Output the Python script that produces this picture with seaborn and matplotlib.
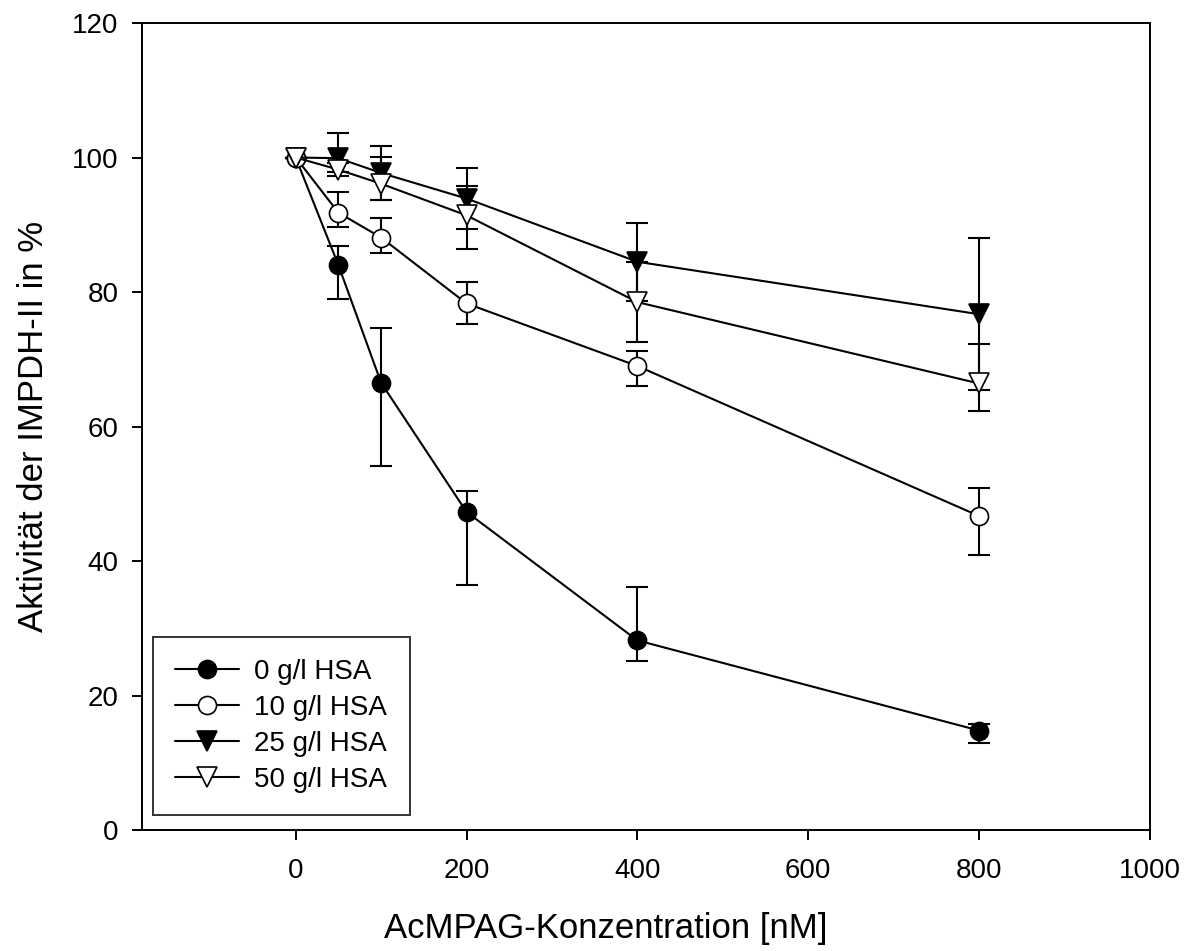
import numpy as np
import pandas as pd
import matplotlib
matplotlib.use("Agg")
import matplotlib.pyplot as plt
import seaborn as sns

# ---- data ----
conc = [0, 50, 100, 200, 400, 800]
labels = ["0 g/l HSA", "10 g/l HSA", "25 g/l HSA", "50 g/l HSA"]

act_0 = [100, 84.0, 66.5, 47.3, 28.2, 14.8]
err_up_0 = [0, 2.9, 8.2, 3.1, 7.9, 0.9]
err_lo_0 = [0, 5.0, 12.4, 10.8, 3.1, 1.8]

act_10 = [100, 91.8, 88.1, 78.3, 69.0, 46.7]
err_up_10 = [0, 3.1, 2.9, 3.2, 2.2, 4.1]
err_lo_10 = [0, 2.1, 2.3, 3.1, 3.0, 5.8]

act_25 = [100, 99.9, 97.7, 93.9, 84.5, 76.7]
err_up_25 = [0, 3.8, 4.0, 4.6, 5.8, 11.3]
err_lo_25 = [0, 2.0, 4.0, 4.6, 5.8, 11.3]

act_50 = [100, 98.2, 96.1, 91.4, 78.5, 66.4]
err_up_50 = [0, 1.0, 4.0, 4.4, 6.0, 5.9]
err_lo_50 = [0, 1.0, 2.4, 5.0, 6.0, 4.1]

x_ticks = [0, 200, 400, 600, 800, 1000]
y_ticks = [0, 20, 40, 60, 80, 100, 120]

# ---- style ----
sns.set_style("ticks")
plt.rcParams['font.family'] = ['Liberation Sans', 'DejaVu Sans']
plt.rcParams['axes.linewidth'] = 1.4
plt.rcParams['text.color'] = 'black'
plt.rcParams['axes.labelcolor'] = 'black'
plt.rcParams['xtick.color'] = 'black'
plt.rcParams['ytick.color'] = 'black'

fig = plt.figure(figsize=(11.89, 9.51), dpi=100)
ax = fig.add_axes([0.1194, 0.1272, 0.8476, 0.8486])

series = [
    (act_0, err_lo_0, err_up_0, 'o', 'black'),
    (act_10, err_lo_10, err_up_10, 'o', 'white'),
    (act_25, err_lo_25, err_up_25, 'v', 'black'),
    (act_50, err_lo_50, err_up_50, 'v', 'white'),
]

for (vals, lo, up, mk, fc), lab in zip(series, labels):
    ax.errorbar(conc, vals, yerr=[lo, up], fmt='none', ecolor='black',
                elinewidth=1.5, capsize=8, capthick=1.5, zorder=2)
    df = pd.DataFrame({"x": conc, "y": vals})
    sns.lineplot(data=df, x="x", y="y", ax=ax, color='black', linewidth=1.5,
                 marker=mk, markersize=13 if mk == 'o' else 14,
                 markerfacecolor=fc, markeredgecolor='black',
                 markeredgewidth=1.2, label=lab, zorder=3)

ax.set_xlim(-180, 1000)
ax.set_ylim(0, 120)
ax.set_xticks(x_ticks)
ax.set_yticks(y_ticks)
ax.tick_params(axis='both', direction='out', length=7, width=1.4,
               labelsize=20, colors='black')
ax.tick_params(axis='y', pad=10)
ax.tick_params(axis='x', pad=13)
for sp in ax.spines.values():
    sp.set_visible(True)
    sp.set_color('black')

ax.set_xlabel("AcMPAG-Konzentration [nM]", fontsize=25)
ax.xaxis.set_label_coords(0.46, -0.102)
ax.set_ylabel("Aktivität der IMPDH-II in %", fontsize=25, labelpad=16)

leg = ax.legend(loc='lower left', bbox_to_anchor=(0.011, 0.0186),
                borderaxespad=0, fontsize=20, frameon=True, fancybox=False,
                handlelength=2.3, labelspacing=0.36, borderpad=0.8,
                handletextpad=0.55)
leg.get_frame().set_edgecolor('#333333')
leg.get_frame().set_linewidth(1.4)
leg.get_frame().set_alpha(1)

fig.savefig("out.png", dpi=100)
